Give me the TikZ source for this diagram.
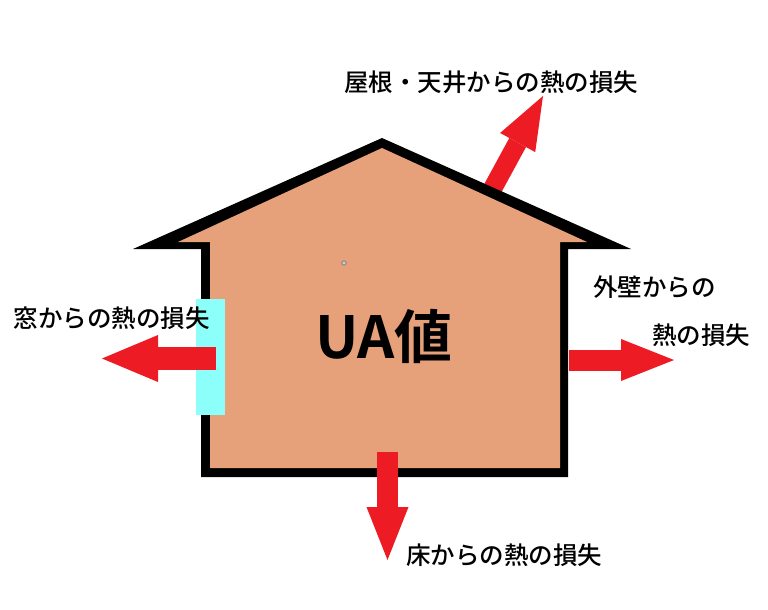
\documentclass[tikz,border=0pt]{standalone}
\usepackage{fontspec}
\newfontfamily\jp{Noto Sans CJK JP Medium}
\newfontfamily\jpbold{Noto Sans CJK JP Bold}
\usetikzlibrary{arrows.meta}
\definecolor{wallfill}{RGB}{230,160,122}
\definecolor{lossred}{RGB}{237,28,36}
\definecolor{glass}{RGB}{140,255,250}
\tikzset{
	loss/.style={draw=lossred, line width=21pt, -{Triangle[length=53pt,width=42pt,line width=0pt]}},
	lbl/.style={font=\jp\fontsize{24.5}{29}\selectfont, inner sep=0pt},
}

\begin{document}
\begin{tikzpicture}[x=1pt,y=-1pt]
	\useasboundingbox (0,0) rectangle (768,610);
	\coordinate (roofs) at (488,197);
	\coordinate (rooft) at (543,96);
	\draw[loss, line width=19pt, -{Triangle[length=53pt,width=40pt,line width=0pt]}] (roofs) -- (rooft);
	\fill[black] (201,477) -- (201,249) -- (133,249) -- (382,138) -- (631,249) -- (568,249) -- (568,477) -- cycle;
	\fill[wallfill] (210,468) -- (210,242) -- (178,242) -- (382,148) -- (587,242) -- (560,242) -- (560,468) -- cycle;
	\fill[glass] (196,299) rectangle (225,415);
	\filldraw[draw=gray, fill=gray!40, line width=0.8pt] (344,263) circle (2.2pt);
	\node[font=\jpbold\fontsize{58}{62}\selectfont, inner sep=0pt] (ua) at (384,336) {UA値};
	\coordinate (wins) at (216,358.5);
	\coordinate (wint) at (102,358.5);
	\coordinate (walls) at (569,360);
	\coordinate (wallt) at (674,360);
	\coordinate (floors) at (387.5,452);
	\coordinate (floort) at (387.5,560);
	\draw[loss, line width=23pt, -{Triangle[length=56pt,width=47pt,line width=0pt]}] (wins) -- (wint);
	\draw[loss] (walls) -- (wallt);
	\draw[loss] (floors) -- (floort);
	\node[lbl] (roofl) at (491,82) {屋根・天井からの熱の損失};
	\node[lbl] (winl) at (111.5,318) {窓からの熱の損失};
	\node[lbl] (walla) at (654.5,287) {外壁からの};
	\node[lbl] (wallb) at (701,335) {熱の損失};
	\node[lbl] (floorl) at (504,555) {床からの熱の損失};
\end{tikzpicture}
\end{document}
